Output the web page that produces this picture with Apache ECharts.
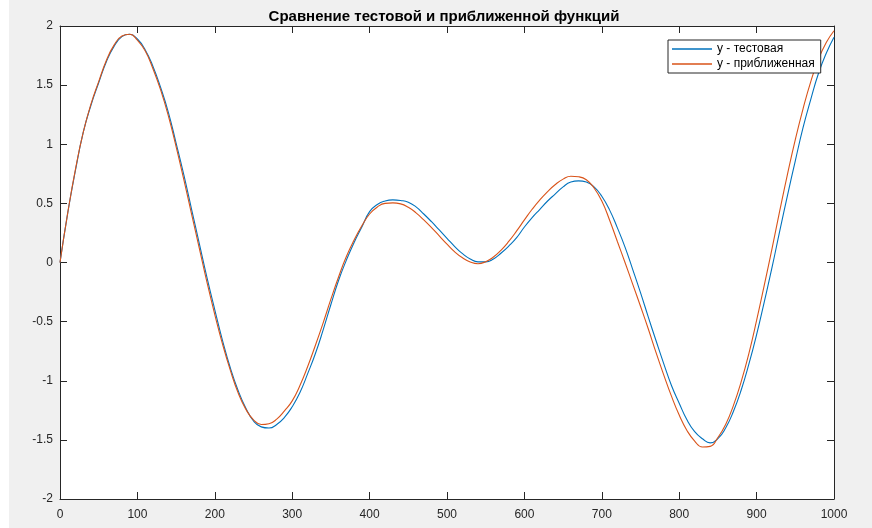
<!DOCTYPE html>
<html>
<head>
<meta charset="utf-8">
<script src="https://cdn.jsdelivr.net/npm/echarts@6/dist/echarts.min.js"></script>
<style>
html,body{margin:0;padding:0;background:#fff;}
#chart{width:872px;height:528px;}
</style>
</head>
<body>
<div id="chart"></div>
<script>
const titleText = 'Сравнение тестовой и приближенной функций';
const seriesNames = ['y - тестовая', 'y - приближенная'];
const xValues = [0,10,20,30,40,50,60,70,80,90,100,110,120,130,140,150,160,170,180,190,200,210,220,230,240,250,260,270,280,290,300,310,320,330,340,350,360,370,380,390,400,410,420,430,440,450,460,470,480,490,500,510,520,530,540,550,560,570,580,590,600,610,620,630,640,650,660,670,680,690,700,710,720,730,740,750,760,770,780,790,800,810,820,830,840,850,860,870,880,890,900,910,920,930,940,950,960,970,980,990,1000];
const yTest = [0,0.42,0.78,1.10,1.33,1.52,1.70,1.83,1.91,1.93,
  1.89,1.80,1.66,1.48,1.27,1.01,0.74,0.45,0.16,-0.13,
  -0.40,-0.66,-0.89,-1.08,-1.23,-1.34,-1.39,-1.40,-1.37,-1.31,
  -1.22,-1.10,-0.94,-0.77,-0.57,-0.355,-0.15,0.02,0.17,0.30,
  0.43,0.49,0.52,0.53,0.525,0.51,0.47,0.41,0.345,0.275,
  0.205,0.135,0.075,0.03,0.005,0.005,0.03,0.08,0.14,0.21,
  0.30,0.38,0.45,0.52,0.58,0.64,0.68,0.69,0.68,0.64,
  0.56,0.445,0.295,0.13,-0.06,-0.255,-0.46,-0.66,-0.855,-1.04,
  -1.19,-1.33,-1.43,-1.49,-1.525,-1.49,-1.40,-1.26,-1.08,-0.86,
  -0.61,-0.33,-0.04,0.27,0.57,0.86,1.14,1.38,1.60,1.77,
  1.905];
const yApprox = [0,0.42,0.79,1.10,1.34,1.53,1.71,1.84,1.915,1.93,
  1.88,1.79,1.64,1.46,1.24,0.98,0.70,0.41,0.12,-0.17,
  -0.44,-0.69,-0.91,-1.10,-1.24,-1.33,-1.37,-1.363,-1.325,-1.255,
  -1.17,-1.04,-0.88,-0.70,-0.51,-0.31,-0.12,0.05,0.19,0.31,
  0.41,0.47,0.50,0.504,0.496,0.467,0.42,0.36,0.295,0.225,
  0.155,0.09,0.04,0.005,-0.01,0.007,0.046,0.105,0.18,0.267,
  0.36,0.45,0.53,0.60,0.66,0.705,0.73,0.725,0.70,0.63,
  0.52,0.36,0.18,0.00,-0.185,-0.37,-0.56,-0.76,-0.95,-1.13,
  -1.29,-1.42,-1.51,-1.56,-1.555,-1.48,-1.37,-1.21,-1.01,-0.77,
  -0.49,-0.19,0.12,0.44,0.75,1.04,1.30,1.53,1.72,1.86,
  1.96];

const axisColor = '#262626';
const chart = echarts.init(document.getElementById('chart'));
function pairs(ys){ return xValues.map((x,i)=>[x, ys[i]]); }
const tickCommon = {show:true, inside:true, length:7, lineStyle:{color:axisColor, width:1}};
const lineCommon = {show:true, onZero:false, lineStyle:{color:axisColor, width:1}};
const labelCommon = {color:axisColor, fontSize:12, fontFamily:'Liberation Sans, Arial, sans-serif', formatter:function(v){return String(v);}};
chart.setOption({
  backgroundColor:'#f0f0f0',
  animation:false,
  title:{
    text:titleText, left:439, top:4, textAlign:'center',
    textStyle:{fontSize:15, fontWeight:'bold', color:'#000', fontFamily:'Liberation Sans, Arial, sans-serif'}
  },
  graphic:[{type:'rect', left:0, top:0, shape:{width:9, height:528}, style:{fill:'#ffffff'}, z:-10, silent:true}],
  grid:{left:60, right:38, top:26, bottom:29, show:true, backgroundColor:'#ffffff', borderWidth:0},
  legend:{
    left:668, top:40, orient:'vertical',
    data:seriesNames,
    icon:'rect', itemWidth:40, itemHeight:1.5, itemGap:3,
    padding:[3,6,3,4],
    backgroundColor:'#ffffff', borderColor:axisColor, borderWidth:1, borderRadius:0,
    textStyle:{fontSize:12, color:'#000', fontFamily:'Liberation Sans, Arial, sans-serif'}
  },
  xAxis:[
    {type:'value', position:'bottom', min:0, max:1000, interval:100,
     axisLine:lineCommon, axisTick:tickCommon, splitLine:{show:false},
     axisLabel:Object.assign({margin:10}, labelCommon)},
    {type:'value', position:'top', min:0, max:1000, interval:100,
     axisLine:lineCommon, axisTick:tickCommon, splitLine:{show:false}, axisLabel:{show:false}}
  ],
  yAxis:[
    {type:'value', position:'left', min:-2, max:2, interval:0.5,
     axisLine:lineCommon, axisTick:tickCommon, splitLine:{show:false},
     axisLabel:Object.assign({margin:7}, labelCommon)},
    {type:'value', position:'right', min:-2, max:2, interval:0.5,
     axisLine:lineCommon, axisTick:tickCommon, splitLine:{show:false}, axisLabel:{show:false}}
  ],
  series:[
    {name:seriesNames[0], type:'line', data:pairs(yTest), showSymbol:false, smooth:true,
     lineStyle:{color:'#0072BD', width:1.1}, itemStyle:{color:'#0072BD'}},
    {name:seriesNames[1], type:'line', data:pairs(yApprox), showSymbol:false, smooth:true,
     lineStyle:{color:'#D95319', width:1.1}, itemStyle:{color:'#D95319'}}
  ]
});
</script>
</body>
</html>
